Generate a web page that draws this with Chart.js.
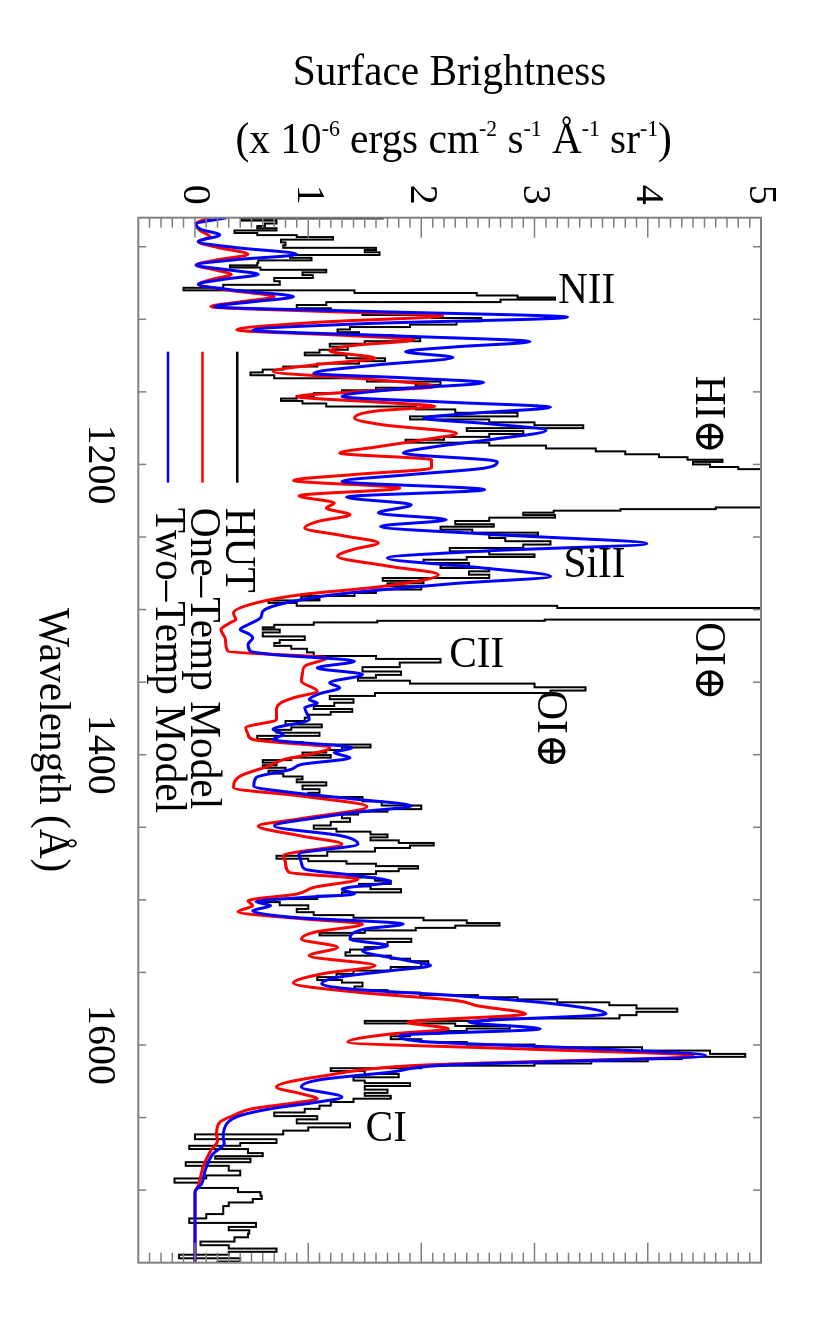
<!DOCTYPE html>
<html>
<head>
<meta charset="utf-8">
<script src="https://cdn.jsdelivr.net/npm/chart.js@4.4.0/dist/chart.umd.min.js"></script>
<style>
html, body { margin: 0; padding: 0; overflow: hidden; background: #fff; width: 830px; height: 1329px; }
/* the plot is drawn landscape and turned a quarter clockwise, like the printed figure */
#wrap { position: absolute; left: 830px; top: 0; width: 1329px; height: 830px; transform-origin: 0 0; transform: rotate(90deg); }
</style>
</head>
<body>
<div id="wrap"><canvas id="spectrum" width="1329" height="830"></canvas></div>
<script>
// wavelength (A) / surface brightness (1e-6 ergs cm-2 s-1 A-1 sr-1)
var hutWave = [1030,1031,1033,1035,1036.5,1038,1039.6,1041.5,1042.5,1044.2,1046,1048,1050,1051.5,1053,1054.6,1056.8,1058.5,1060.3,1062,1063.7,1065,1066.8,1068.5,1070.6,1072.5,1075,1077.5,1079.1,1081,1082.8,1084.4,1085.6,1087.3,1089,1091.3,1093.5,1095.9,1098.2,1100,1102.8,1104.5,1106.2,1107.8,1110,1112,1114.2,1116,1117.7,1120,1122,1123.9,1125.7,1128,1129.7,1131.4,1133.7,1135.6,1137.6,1139.5,1141.8,1144,1146.3,1148,1149.8,1152,1153.7,1155.5,1157,1159,1161.2,1163,1165.8,1168,1170,1172,1174,1176,1178,1180,1182,1184,1186,1188,1190,1192,1194,1196,1197.5,1199,1201,1202.5,1204,1229,1230.3,1231.3,1232.4,1234,1235.8,1237.5,1240.4,1242,1243.8,1246,1248,1249.6,1251.8,1254,1256.4,1258.7,1261,1263,1264.5,1266.8,1269,1270.2,1272.5,1274.8,1277.1,1279.4,1281,1282.8,1285,1287.4,1289.7,1291.5,1293.1,1294.3,1296.5,1298.3,1299.5,1306.5,1307.3,1308.2,1309.5,1311.5,1313,1314.5,1317,1320,1322,1324,1326,1328,1331,1333,1335,1338,1341.3,1344,1346,1348,1350,1352,1355.1,1356.5,1358.5,1360.5,1363,1365.4,1367.5,1369.5,1371.5,1373.4,1375.5,1378,1380.3,1382,1383.7,1386,1388,1390.5,1392,1394,1396,1397.5,1399.5,1401,1403,1404.4,1406.5,1408,1410,1412,1414,1416,1418,1420,1422.5,1425,1427.5,1430.8,1433.5,1436.5,1438.5,1440,1442.5,1445,1447.5,1450,1452,1454,1455.9,1458,1460,1461.6,1463.5,1465,1468.5,1470.8,1472.5,1474.2,1476,1477.5,1479.5,1481,1483.5,1485.7,1488,1490,1491.5,1493.7,1496,1498.3,1500.6,1502.5,1505,1507.5,1509.5,1511.5,1513.2,1515,1517,1518.5,1520.1,1522,1523.5,1525.5,1528.1,1530,1531.6,1533.5,1535,1537.3,1539.6,1541.5,1543,1545,1547.5,1550,1552,1554.5,1556,1558,1561.4,1563,1564.8,1566.5,1567.7,1569.5,1571.7,1573.5,1576.3,1578,1580.9,1582.5,1584.3,1586,1587.8,1589.5,1591.2,1593,1595,1597,1599,1600.4,1602.7,1605,1607.3,1609,1610.5,1612,1613.5,1615,1617,1619,1621,1623.5,1625.5,1627,1629.5,1632,1634,1636,1638,1640.6,1643,1645,1648,1650,1652.5,1655.5,1658,1660,1663.2,1666.6,1668.5,1670.4,1673,1676,1677.2,1679.5,1682,1684.5,1688.7,1691,1692.9,1696.8,1700.2,1702.5,1705.2,1707,1710,1712,1715,1718,1721,1724.2,1726.5,1728.8,1731,1734,1736.9,1739,1741.5,1743.5,1745.5,1748.4,1750];
var hutFlux = [1.66,0.41,0.72,0.62,0.55,0.72,0.35,0.55,0.9,1.22,0.76,0.8,0.78,1.6,1.5,1.63,0.84,1.03,0.56,0.55,0.31,0.58,1.16,0.95,1.04,0.7,0.75,0.25,-0.1,1.41,2.49,2.85,3.18,2.7,1.16,0.9,1.2,1.48,2.09,2.53,2.31,1.9,1.37,1.26,1.45,1.75,1.99,1.5,1.19,1.35,1.1,0.97,1.34,1.68,1.45,1.08,0.78,0.6,0.49,0.7,1.52,2.17,1.95,1.6,1.3,1.05,0.9,0.76,0.95,1.16,1.95,2.3,2.85,1.9,2.6,3.0,3.43,2.4,2.9,2.6,2.2,1.86,2.6,3.1,3.54,3.8,4.1,4.35,4.66,4.4,4.55,4.8,9,9,4.6,3.76,3.17,2.9,3.18,2.6,2.3,2.64,2.17,2.45,3.03,2.6,2.74,3.14,2.9,2.25,2.6,3.0,2.4,2.02,2.42,2.17,2.6,2.42,2.6,1.66,2.02,1.7,2.0,1.6,1.41,0.94,1.1,0.65,0.9,3.2,9,9,3.09,1.61,1.05,0.7,0.6,0.75,0.6,0.97,0.75,0.7,0.85,0.99,1.05,1.6,2.17,1.81,1.48,1.82,1.6,1.44,1.9,3.0,3.45,3.14,1.59,1.19,1.4,1.23,1.05,1.39,1.2,1.0,0.97,0.8,1.12,0.85,0.72,1.1,0.55,0.72,0.95,1.55,1.3,1.16,0.95,1.2,0.85,0.6,0.72,0.6,0.8,0.65,0.78,0.95,0.9,1.16,0.95,1.1,1.0,1.48,1.65,2.0,1.7,1.44,1.3,1.37,1.2,1.05,1.25,1.55,1.7,1.55,1.8,2.11,1.9,1.59,1.17,0.72,1.0,1.34,1.6,1.97,1.8,1.6,1.35,1.59,1.73,1.45,1.55,1.82,1.3,1.08,0.6,0.75,1.0,0.9,1.05,1.4,2.02,2.4,2.69,2.3,1.95,1.5,1.1,1.37,1.91,1.7,1.66,1.5,1.37,1.33,1.73,1.9,2.06,2.0,1.73,1.4,1.25,1.08,1.3,1.48,1.41,1.7,1.99,2.5,2.85,3.2,3.66,3.9,4.26,3.9,3.75,2.6,1.5,2.3,2.78,2.4,2.17,1.9,1.73,2.0,2.4,3.0,3.95,4.55,4.86,4.3,4.0,3.5,3.0,2.0,1.2,1.5,1.8,1.4,1.5,1.9,1.5,1.7,1.5,1.73,1.4,1.2,1.1,0.97,0.7,1.08,0.9,1.37,1.0,0.78,0.0,0.72,0.4,-0.05,0.47,0.6,0.18,0.49,-0.08,0.3,0.4,0.1,-0.18,0.04,0.38,0.58,0.59,0.51,0.3,0.25,0.25,0.1,-0.05,0.54,0.3,0.48,0.47,0.35,0.05,0.3,0.72,0.3,-0.14,0.4,0.2];

var oneTempWave = [1030,1034,1038.5,1043.1,1046.5,1050.5,1055.2,1059,1062.6,1066,1069,1072.5,1075.9,1080,1084.4,1088,1091.3,1094.5,1097.5,1102,1107.3,1111,1114.2,1118,1121.8,1126.8,1131,1136,1141,1146.3,1150,1153.2,1157,1160,1163,1168.1,1172.7,1178.5,1183,1188,1192.2,1196.8,1202.5,1207,1211,1216.3,1221.6,1226.6,1230,1234.7,1239,1243.8,1249,1254.1,1258.5,1263.3,1270,1275.9,1284,1289.7,1295.4,1302.3,1306.9,1309.2,1313.8,1320.7,1328.7,1333.3,1339,1344,1349.3,1356.2,1360.8,1364.2,1368.8,1375.7,1381.4,1386,1389.5,1395.2,1399.8,1403.2,1407.8,1414.7,1422.7,1428.5,1435.8,1444.5,1449.1,1456,1461.6,1469.6,1474.2,1481,1485.7,1491.4,1496,1500.6,1504,1508.2,1513,1516.7,1522.4,1527,1532.7,1538.5,1545.3,1551,1557.3,1563.7,1569.4,1572.9,1578.6,1584.3,1588.9,1592.4,1598,1603,1607.3,1614.1,1621,1629,1633.6,1637.1,1640,1644,1648.6,1653.2,1661.2,1666,1672.7,1684.2,1696.8,1701.4,1750];
var oneTempFlux = [0.14,0.01,0.04,0.13,0.03,0.2,0.47,0.2,0.01,0.18,0.32,0.15,0.03,0.3,0.7,0.4,0.14,1.1,2.19,1.1,0.37,1.3,1.93,1.4,1.19,1.59,1.1,0.69,1.5,2.12,1.4,0.9,1.6,2.12,1.62,1.41,1.66,2.31,2.02,1.6,1.28,2.09,2.09,1.4,0.87,1.81,0.92,1.23,1.16,1.37,1.1,0.97,1.3,1.62,1.4,1.26,1.7,2.15,1.66,0.94,0.54,0.34,0.36,0.31,0.23,0.27,0.29,1.16,0.97,0.95,0.94,1.08,0.87,0.76,0.72,0.72,0.45,0.47,0.51,1.19,1.01,0.79,0.65,0.4,0.34,0.94,1.52,0.9,0.56,0.94,1.3,0.78,0.8,0.83,1.44,1.05,0.9,0.47,0.51,0.38,0.94,1.48,1.05,0.94,1.26,1.01,1.59,1.12,0.87,1.44,2.31,2.49,2.92,1.88,2.24,1.73,1.35,3.0,4.4,1.95,1.16,0.72,0.94,1.08,0.87,0.5,0.34,0.22,0.19,0.2,0.14,0.07,0.03,0.0,0.0];

var twoTempWave = [1030,1034.5,1038,1041.9,1046.5,1050.5,1055.2,1059,1062.6,1066,1069,1072.5,1075.9,1080,1084.4,1088,1091.3,1094.5,1098.6,1103,1107.5,1111.5,1115.4,1119,1122.3,1126.3,1131.5,1137.2,1140.5,1143.6,1148,1153.2,1157,1160.6,1164.5,1168.1,1172,1176.5,1183,1188,1192.2,1198,1202.5,1207,1211.7,1217.4,1222.5,1227.8,1233.5,1238.1,1242.7,1248.5,1254.6,1259.5,1264.5,1271,1277.1,1282,1286.3,1290,1294.3,1297.7,1301.2,1305.7,1310,1313.8,1316.5,1319.5,1324,1328.7,1331,1335.6,1340.2,1344.7,1350.5,1353.9,1358,1362,1364.5,1367.7,1375.7,1382.6,1386,1389.5,1395.2,1398.6,1402.1,1406.7,1410.1,1415.8,1421.6,1426.2,1430.5,1435.3,1439,1443.4,1449.1,1456,1461.6,1468.5,1474.2,1478.8,1483.4,1487.5,1492.6,1496,1498.3,1501.3,1504,1507.5,1512.1,1516.7,1520.1,1527,1531.6,1535,1541.9,1545.3,1548.8,1553.4,1558,1561.4,1566,1571.7,1578.6,1584.3,1588.9,1593.5,1597.5,1602.5,1607.3,1614.1,1618.7,1624,1629,1635.9,1639.4,1643.5,1648.6,1654.3,1663.5,1668,1675,1686.5,1695.6,1701.4,1750];
var twoTempFlux = [0.28,0.01,0.05,0.22,0.03,0.35,0.9,0.35,0.01,0.3,0.56,0.25,0.03,0.35,0.87,0.5,0.17,1.5,3.29,1.5,0.51,1.8,2.96,2.3,1.86,2.28,1.6,1.05,1.9,2.55,1.8,1.3,2.2,3.14,2.5,2.02,2.6,3.1,2.6,2.1,1.84,2.67,2.56,1.9,1.3,2.56,1.34,1.91,1.62,2.22,1.64,2.7,3.99,2.6,1.7,2.5,3.14,2.3,1.66,1.2,0.87,0.69,0.6,0.58,0.48,0.4,0.47,0.51,0.47,0.49,0.69,1.41,1.08,1.48,1.19,1.28,1.1,1.01,1.08,0.97,1.01,0.69,0.78,0.69,1.39,1.23,1.37,0.94,0.85,0.54,0.52,0.87,1.4,1.91,1.5,1.08,0.7,1.3,1.44,0.92,0.94,0.97,1.44,1.73,1.3,1.41,0.97,0.54,0.67,0.51,0.87,1.84,1.5,1.37,1.7,1.48,1.88,2.08,1.73,1.26,1.12,1.37,2.31,3.18,3.63,2.42,3.05,1.81,2.0,3.5,4.51,2.17,1.73,1.1,0.94,1.3,1.08,0.7,0.4,0.28,0.25,0.26,0.16,0.09,0.06,0.0,0.0];

var wavelengthTicks = [1200, 1400, 1600];
var brightnessTicks = [0, 1, 2, 3, 4, 5];

// line identifications: text, wavelength, brightness, turned with the page or not
var lineLabels = [
  ['NII', 1081, 3.46, true],
  ['SiII', 1269.7, 3.53, true],
  ['CII', 1331.4, 2.49, true],
  ['CI', 1658.4, 1.69, true],
  ['HI\u2295', 1165.8, 4.53, false],
  ['OI\u2295', 1335.7, 4.53, false],
  ['OI\u2295', 1382.5, 3.13, false]
];

var serif = "'Liberation Serif', 'Times New Roman', 'DejaVu Serif', serif";
var squeeze = 0.94;   // the figure's Times is a bit narrower than Liberation Serif

function pts(w, f) {
  return w.map(function (v, i) { return {x: v, y: f[i]}; });
}

// text at (px, py), optionally turned so it reads across the rotated page
function label(ctx, s, px, py, turned, align) {
  ctx.save();
  ctx.translate(px, py);
  if (turned) ctx.rotate(-Math.PI / 2);
  ctx.scale(squeeze, 1);
  ctx.textAlign = align || 'center';
  ctx.fillText(s, 0, 0);
  ctx.restore();
}

var overlay = {
  id: 'overlay',
  afterDatasetsDraw: function (chart) {
    var ctx = chart.ctx, a = chart.chartArea, x = chart.scales.x, y = chart.scales.y;
    ctx.save();
    ctx.strokeStyle = '#808080';
    ctx.lineWidth = 2;
    ctx.strokeRect(a.left, a.top, a.right - a.left, a.bottom - a.top);
    ctx.lineWidth = 1.5;
    ctx.beginPath();
    for (var i = -4; i <= 50; i++) {
      var py = y.getPixelForValue(i / 10);
      var len = i % 10 === 0 ? 20 : 10;
      ctx.moveTo(a.left, py); ctx.lineTo(a.left + len, py);
      ctx.moveTo(a.right, py); ctx.lineTo(a.right - len, py);
    }
    for (var w = 1050; w <= 1700; w += 50) {
      var px = x.getPixelForValue(w);
      ctx.moveTo(px, a.bottom); ctx.lineTo(px, a.bottom - 8);
      ctx.moveTo(px, a.top); ctx.lineTo(px, a.top + 8);
    }
    ctx.stroke();
    ctx.restore();
  },
  afterDraw: function (chart) {
    var ctx = chart.ctx, a = chart.chartArea, x = chart.scales.x, y = chart.scales.y;
    var midY = (a.top + a.bottom) / 2;
    var big = '44px ' + serif, small = '23px ' + serif;
    ctx.save();
    ctx.fillStyle = '#000';
    ctx.font = big;
    ctx.textBaseline = 'alphabetic';

    // titles
    label(ctx, 'Wavelength (\u00c5)', (a.left + a.right) / 2, a.bottom + 98, false);
    label(ctx, 'Surface Brightness', 85, midY, true);

    var parts = [['(x 10', 0], ['-6', 1], [' ergs cm', 0], ['-2', 1], [' s', 0], ['-1', 1],
                 [' \u00c5', 0], ['-1', 1], [' sr', 0], ['-1', 1], [')', 0]];
    var total = 0;
    parts.forEach(function (p) {
      ctx.font = p[1] ? small : big;
      p.push(ctx.measureText(p[0]).width);
      total += p[2];
    });
    ctx.save();
    ctx.translate(153, midY - 4);
    ctx.rotate(-Math.PI / 2);
    ctx.scale(squeeze, 1);
    ctx.textAlign = 'left';
    var cx = -total / 2;
    parts.forEach(function (p) {
      ctx.font = p[1] ? small : big;
      ctx.fillText(p[0], cx, p[1] ? -17 : 0);
      cx += p[2];
    });
    ctx.restore();

    // legend
    ctx.font = big;
    ctx.textBaseline = 'middle';
    chart.data.datasets.forEach(function (ds, i) {
      var ly = a.bottom - 99 + i * 34.7;
      ctx.strokeStyle = ds.borderColor;
      ctx.lineWidth = 2.5;
      ctx.beginPath();
      ctx.moveTo(a.left + 134, ly);
      ctx.lineTo(a.left + 265, ly);
      ctx.stroke();
      label(ctx, ds.label, a.left + 290, ly, false, 'left');
    });

    // line identifications
    lineLabels.forEach(function (l) {
      label(ctx, l[0], x.getPixelForValue(l[1]), y.getPixelForValue(l[2]), l[3]);
    });
    ctx.restore();
  }
};

var tickFont = {family: serif, size: 40};

new Chart(document.getElementById('spectrum').getContext('2d'), {
  type: 'line',
  data: {
    datasets: [{
      label: 'HUT',
      data: pts(hutWave, hutFlux),
      borderColor: '#000000',
      borderWidth: 2,
      pointRadius: 0,
      stepped: 'middle',
      order: 2
    }, {
      label: 'One\u2013Temp Model',
      data: pts(oneTempWave, oneTempFlux),
      borderColor: '#ff0000',
      borderWidth: 3,
      pointRadius: 0,
      cubicInterpolationMode: 'monotone',
      order: 1
    }, {
      label: 'Two\u2013Temp Model',
      data: pts(twoTempWave, twoTempFlux),
      borderColor: '#0000ff',
      borderWidth: 3,
      pointRadius: 0,
      cubicInterpolationMode: 'monotone',
      order: 0
    }]
  },
  options: {
    responsive: false,
    animation: false,
    devicePixelRatio: 1,
    layout: { padding: { top: 69, right: 66.3, left: 0, bottom: 0 } },
    plugins: { legend: { display: false }, tooltip: { enabled: false } },
    scales: {
      x: {
        type: 'linear', min: 1030, max: 1750,
        grid: { display: false, drawTicks: false },
        border: { display: false },
        ticks: { font: tickFont, color: '#000', padding: 15, maxRotation: 0, autoSkip: false,
                 callback: function (v) { return String(v); } },
        afterBuildTicks: function (s) { s.ticks = wavelengthTicks.map(function (v) { return {value: v}; }); },
        afterFit: function (s) { s.height = 138.3; }
      },
      y: {
        type: 'linear', min: -0.5, max: 5,
        grid: { display: false, drawTicks: false },
        border: { display: false },
        ticks: { font: tickFont, color: '#000', padding: 13,
                 callback: function (v) { return String(v); } },
        afterBuildTicks: function (s) { s.ticks = brightnessTicks.map(function (v) { return {value: v}; }); },
        afterFit: function (s) { s.width = 217.7; }
      }
    }
  },
  plugins: [overlay]
});
</script>
</body>
</html>
